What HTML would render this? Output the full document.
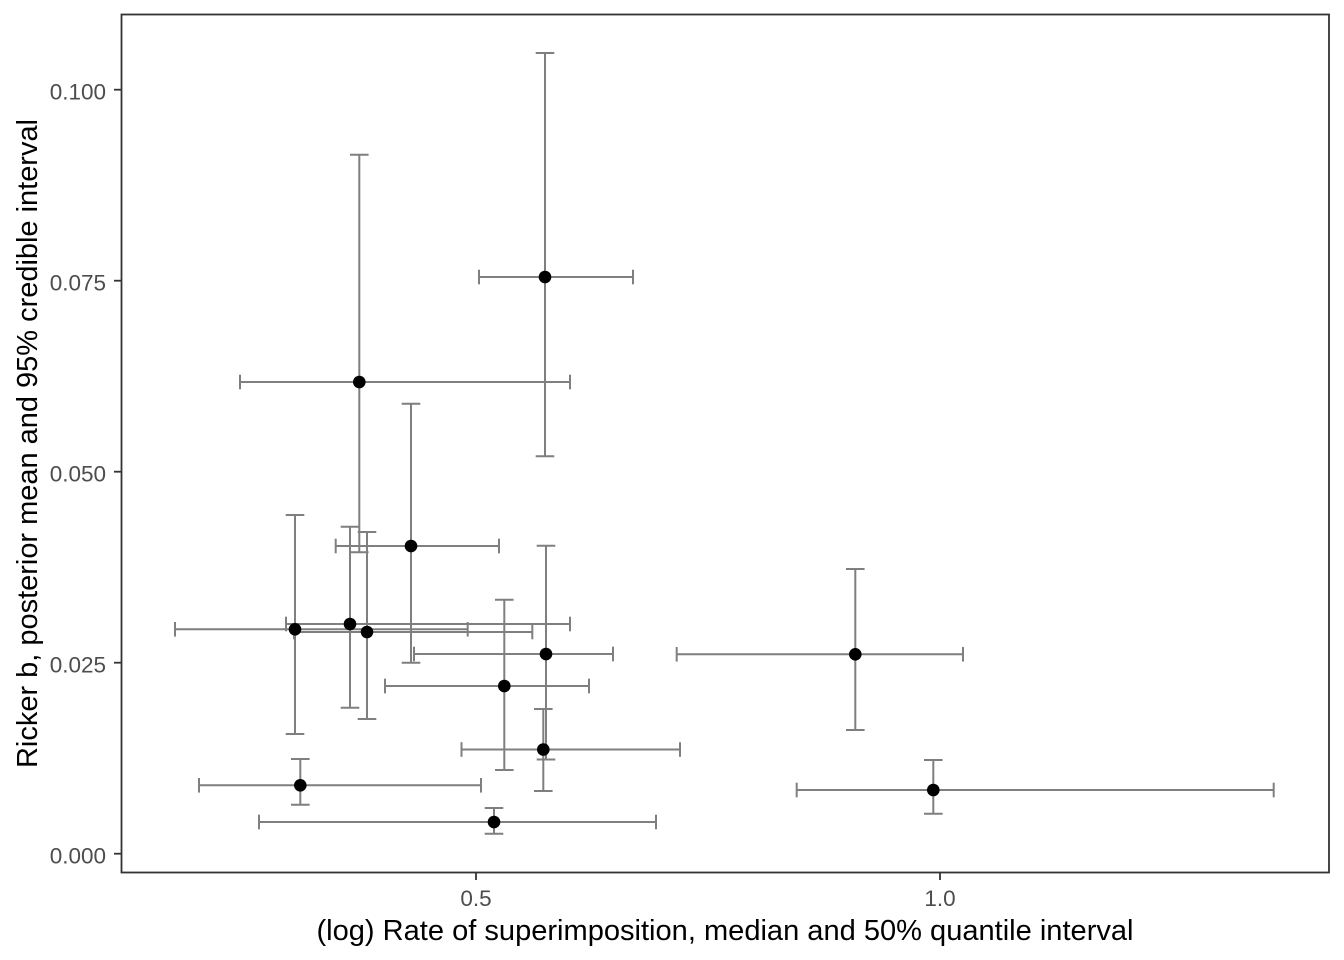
<!DOCTYPE html>
<html>
<head>
<meta charset="utf-8">
<style>
  html, body { margin:0; padding:0; background:#ffffff; }
  svg { display:block; }
  text { font-family: "Liberation Sans", Arial, sans-serif; }
</style>
</head>
<body>
<svg width="1344" height="960" viewBox="0 0 1344 960" xmlns="http://www.w3.org/2000/svg">
  <rect x="0" y="0" width="1344" height="960" fill="#ffffff"/>

  <!-- error bars -->
  <g stroke="#7f7f7f" stroke-width="2" fill="none" stroke-linecap="butt">
    <!-- vertical errorbars: x, ytop, ybot ; caps half-width 9.3 -->
    <!-- A -->
    <line x1="545" y1="53" x2="545" y2="456.3"/>
    <line x1="535.7" y1="53" x2="554.3" y2="53"/>
    <line x1="535.7" y1="456.3" x2="554.3" y2="456.3"/>
    <!-- B -->
    <line x1="359.3" y1="154.7" x2="359.3" y2="552.3"/>
    <line x1="350" y1="154.7" x2="368.6" y2="154.7"/>
    <line x1="350" y1="552.3" x2="368.6" y2="552.3"/>
    <!-- C -->
    <line x1="411" y1="403.7" x2="411" y2="662.7"/>
    <line x1="401.7" y1="403.7" x2="420.3" y2="403.7"/>
    <line x1="401.7" y1="662.7" x2="420.3" y2="662.7"/>
    <!-- D -->
    <line x1="295" y1="515" x2="295" y2="734"/>
    <line x1="285.7" y1="515" x2="304.3" y2="515"/>
    <line x1="285.7" y1="734" x2="304.3" y2="734"/>
    <!-- E -->
    <line x1="350" y1="526.7" x2="350" y2="707.7"/>
    <line x1="340.7" y1="526.7" x2="359.3" y2="526.7"/>
    <line x1="340.7" y1="707.7" x2="359.3" y2="707.7"/>
    <!-- F -->
    <line x1="367" y1="532" x2="367" y2="719"/>
    <line x1="357.7" y1="532" x2="376.3" y2="532"/>
    <line x1="357.7" y1="719" x2="376.3" y2="719"/>
    <!-- G -->
    <line x1="546" y1="545.7" x2="546" y2="759.5"/>
    <line x1="536.7" y1="545.7" x2="555.3" y2="545.7"/>
    <line x1="536.7" y1="759.5" x2="555.3" y2="759.5"/>
    <!-- H -->
    <line x1="543.3" y1="709" x2="543.3" y2="791"/>
    <line x1="534" y1="709" x2="552.6" y2="709"/>
    <line x1="534" y1="791" x2="552.6" y2="791"/>
    <!-- I -->
    <line x1="855.3" y1="569" x2="855.3" y2="730"/>
    <line x1="846" y1="569" x2="864.6" y2="569"/>
    <line x1="846" y1="730" x2="864.6" y2="730"/>
    <!-- J -->
    <line x1="933.3" y1="760" x2="933.3" y2="813.7"/>
    <line x1="924" y1="760" x2="942.6" y2="760"/>
    <line x1="924" y1="813.7" x2="942.6" y2="813.7"/>
    <!-- K -->
    <line x1="504.3" y1="599.7" x2="504.3" y2="770"/>
    <line x1="495" y1="599.7" x2="513.6" y2="599.7"/>
    <line x1="495" y1="770" x2="513.6" y2="770"/>
    <!-- L -->
    <line x1="300.3" y1="759" x2="300.3" y2="804.7"/>
    <line x1="291" y1="759" x2="309.6" y2="759"/>
    <line x1="291" y1="804.7" x2="309.6" y2="804.7"/>
    <!-- M -->
    <line x1="494" y1="808" x2="494" y2="833.7"/>
    <line x1="484.7" y1="808" x2="503.3" y2="808"/>
    <line x1="484.7" y1="833.7" x2="503.3" y2="833.7"/>

    <!-- horizontal errorbars: y, xl, xr ; caps half-height 7.3 -->
    <!-- A -->
    <line x1="479" y1="277" x2="633" y2="277"/>
    <line x1="479" y1="269.7" x2="479" y2="284.3"/>
    <line x1="633" y1="269.7" x2="633" y2="284.3"/>
    <!-- B -->
    <line x1="240" y1="382" x2="570" y2="382"/>
    <line x1="240" y1="374.7" x2="240" y2="389.3"/>
    <line x1="570" y1="374.7" x2="570" y2="389.3"/>
    <!-- C -->
    <line x1="335.7" y1="546" x2="499" y2="546"/>
    <line x1="335.7" y1="538.7" x2="335.7" y2="553.3"/>
    <line x1="499" y1="538.7" x2="499" y2="553.3"/>
    <!-- D -->
    <line x1="175" y1="629.3" x2="467.7" y2="629.3"/>
    <line x1="175" y1="622" x2="175" y2="636.6"/>
    <line x1="467.7" y1="622" x2="467.7" y2="636.6"/>
    <!-- E -->
    <line x1="286" y1="624" x2="570" y2="624"/>
    <line x1="286" y1="616.7" x2="286" y2="631.3"/>
    <line x1="570" y1="616.7" x2="570" y2="631.3"/>
    <!-- F -->
    <line x1="294" y1="632" x2="532.3" y2="632"/>
    <line x1="294" y1="624.7" x2="294" y2="639.3"/>
    <line x1="532.3" y1="624.7" x2="532.3" y2="639.3"/>
    <!-- G -->
    <line x1="414" y1="654" x2="613" y2="654"/>
    <line x1="414" y1="646.7" x2="414" y2="661.3"/>
    <line x1="613" y1="646.7" x2="613" y2="661.3"/>
    <!-- H -->
    <line x1="461.5" y1="749.5" x2="680" y2="749.5"/>
    <line x1="461.5" y1="742.2" x2="461.5" y2="756.8"/>
    <line x1="680" y1="742.2" x2="680" y2="756.8"/>
    <!-- I -->
    <line x1="676.7" y1="654.3" x2="963" y2="654.3"/>
    <line x1="676.7" y1="647" x2="676.7" y2="661.6"/>
    <line x1="963" y1="647" x2="963" y2="661.6"/>
    <!-- J -->
    <line x1="796.7" y1="790" x2="1273.7" y2="790"/>
    <line x1="796.7" y1="782.7" x2="796.7" y2="797.3"/>
    <line x1="1273.7" y1="782.7" x2="1273.7" y2="797.3"/>
    <!-- K -->
    <line x1="385" y1="686" x2="589" y2="686"/>
    <line x1="385" y1="678.7" x2="385" y2="693.3"/>
    <line x1="589" y1="678.7" x2="589" y2="693.3"/>
    <!-- L -->
    <line x1="199" y1="785.3" x2="481" y2="785.3"/>
    <line x1="199" y1="778" x2="199" y2="792.6"/>
    <line x1="481" y1="778" x2="481" y2="792.6"/>
    <!-- M -->
    <line x1="259" y1="822" x2="656" y2="822"/>
    <line x1="259" y1="814.7" x2="259" y2="829.3"/>
    <line x1="656" y1="814.7" x2="656" y2="829.3"/>
  </g>

  <!-- points -->
  <g fill="#000000">
    <circle cx="545" cy="277" r="6.3"/>
    <circle cx="359.3" cy="382" r="6.3"/>
    <circle cx="411" cy="546" r="6.3"/>
    <circle cx="295" cy="629.3" r="6.3"/>
    <circle cx="350" cy="624" r="6.3"/>
    <circle cx="367" cy="632" r="6.3"/>
    <circle cx="546" cy="654" r="6.3"/>
    <circle cx="543.3" cy="749.5" r="6.3"/>
    <circle cx="855.3" cy="654.3" r="6.3"/>
    <circle cx="933.3" cy="790" r="6.3"/>
    <circle cx="504.3" cy="686" r="6.3"/>
    <circle cx="300.3" cy="785.3" r="6.3"/>
    <circle cx="494" cy="822" r="6.3"/>
  </g>

  <!-- panel border -->
  <rect x="121.5" y="14.5" width="1207.5" height="858" fill="none" stroke="#333333" stroke-width="1.8"/>

  <!-- y ticks -->
  <g stroke="#333333" stroke-width="1.8">
    <line x1="114" y1="853.7" x2="121.5" y2="853.7"/>
    <line x1="114" y1="662.7" x2="121.5" y2="662.7"/>
    <line x1="114" y1="471.7" x2="121.5" y2="471.7"/>
    <line x1="114" y1="280.7" x2="121.5" y2="280.7"/>
    <line x1="114" y1="89.7" x2="121.5" y2="89.7"/>
    <!-- x ticks -->
    <line x1="476" y1="872.5" x2="476" y2="880"/>
    <line x1="940" y1="872.5" x2="940" y2="880"/>
  </g>

  <!-- y tick labels -->
  <g fill="#4d4d4d" font-size="22.5" text-anchor="end">
    <text x="106" y="863.3">0.000</text>
    <text x="106" y="672.3">0.025</text>
    <text x="106" y="481.3">0.050</text>
    <text x="106" y="290.3">0.075</text>
    <text x="106" y="99.3">0.100</text>
  </g>
  <!-- x tick labels -->
  <g fill="#4d4d4d" font-size="22.5" text-anchor="middle">
    <text x="476" y="906">0.5</text>
    <text x="940" y="906">1.0</text>
  </g>

  <!-- axis titles -->
  <text x="725" y="940" font-size="29" fill="#000000" text-anchor="middle" textLength="817" lengthAdjust="spacingAndGlyphs">(log) Rate of superimposition, median and 50% quantile interval</text>
  <text x="0" y="0" font-size="29" fill="#000000" text-anchor="middle" textLength="649" lengthAdjust="spacingAndGlyphs" transform="translate(37,443.5) rotate(-90)">Ricker b, posterior mean and 95% credible interval</text>
</svg>
</body>
</html>
